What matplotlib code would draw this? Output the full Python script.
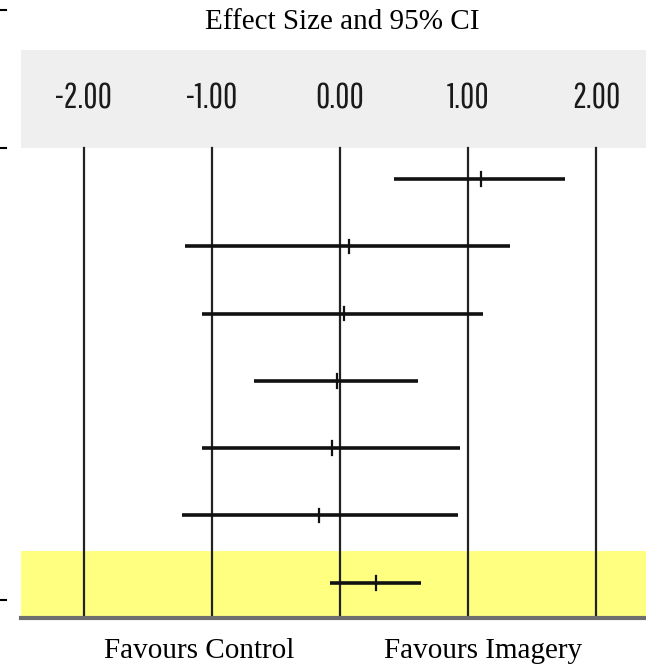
import matplotlib
matplotlib.use("Agg")
import matplotlib.pyplot as plt
from matplotlib.lines import Line2D

# Study effect sizes with 95% confidence limits; the last row is the pooled estimate
effects = [1.10, 0.07, 0.03, -0.02, -0.06, -0.16, 0.28]
lower = [0.42, -1.21, -1.08, -0.67, -1.08, -1.23, -0.08]
upper = [1.76, 1.33, 1.12, 0.61, 0.94, 0.92, 0.63]
tick_values = [-2.0, -1.0, 0.0, 1.0, 2.0]
tick_labels = ["-2.00", "-1.00", "0.00", "1.00", "2.00"]

W, H = 646, 668
fig = plt.figure(figsize=(W / 100, H / 100), dpi=100)

# axes region in pixels
left_px, right_px, top_px, bottom_px = 21, 646, 50, 620
ax = fig.add_axes([left_px / W, 1 - bottom_px / H,
                   (right_px - left_px) / W, (bottom_px - top_px) / H])
ax.set_xlim(-2.49, 2.39)
ax.set_ylim(6.553, -1.917)
ax.axis("off")

header_bottom = -0.461
summary_top = 5.527

# grey header band with the scale labels
ax.axhspan(-1.917, header_bottom, color="#efefef", lw=0, zorder=0)
# highlighted band for the pooled row
ax.axhspan(summary_top, 6.553, color="#ffff80", lw=0, zorder=0)

narrow = ["Pathway Gothic One", "League Gothic", "Oswald", "Roboto Condensed", "DejaVu Sans"]
for v, lab in zip(tick_values, tick_labels):
    ax.plot([v, v], [header_bottom, 6.553], color="#222222", lw=1.6, zorder=1)
    ax.text(v, -1.20, lab, ha="center", va="center", fontsize=25,
            family=narrow, color="#1a1a1a")

# confidence intervals and point estimates
for i, (e, lo, hi) in enumerate(zip(effects, lower, upper)):
    ax.plot([lo, hi], [i, i], color="#111111", lw=2.6, solid_capstyle="butt", zorder=3)
    ax.plot([e, e], [i - 0.1, i + 0.1], color="#111111", lw=1.6, zorder=4)

# baseline of the panel
ax.plot([-2.49, 2.39], [6.53, 6.53], color="#6e6e6e", lw=3, clip_on=False, zorder=2)

serif = ["Liberation Serif", "DejaVu Serif"]
fig.text(342 / W, 1 - 22 / H, "Effect Size and 95% CI", ha="center", va="center",
         fontsize=21, family=serif)
fig.text(199 / W, 1 - 651 / H, "Favours Control", ha="center", va="center",
         fontsize=21, family=serif)
fig.text(483 / W, 1 - 651 / H, "Favours Imagery", ha="center", va="center",
         fontsize=21, family=serif)

# short rule marks at the left edge
for yp in (10, 148, 600):
    fig.add_artist(Line2D([0, 6 / W], [1 - yp / H, 1 - yp / H], color="black", lw=1.5))

fig.savefig("out.png", dpi=100)
